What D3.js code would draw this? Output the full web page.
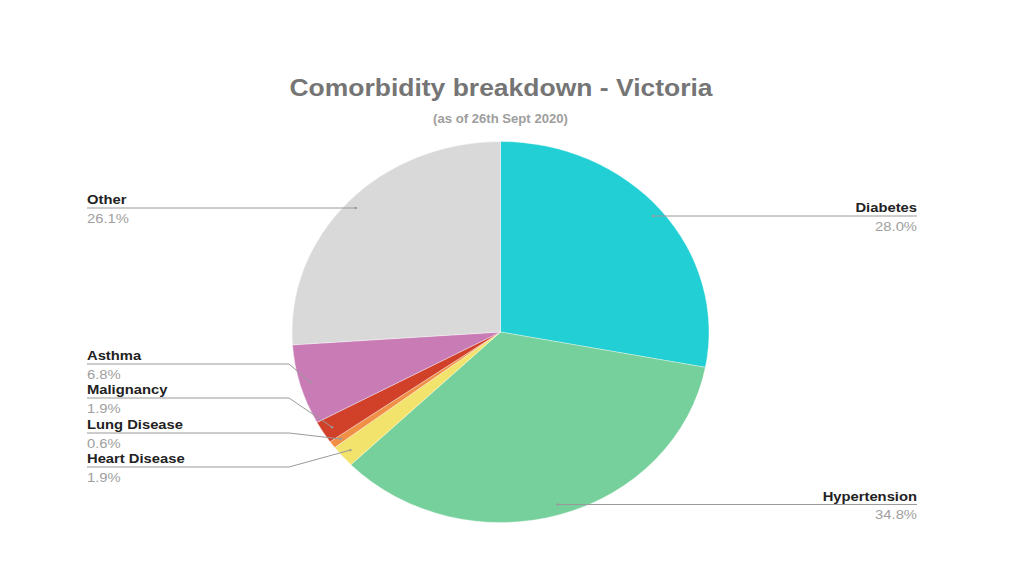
<!DOCTYPE html>
<html>
<head>
<meta charset="utf-8">
<script src="https://cdn.jsdelivr.net/npm/d3@7"></script>
<style>
  html, body { margin: 0; padding: 0; background: #fff; }
  svg { display: block; }
  text { font-family: "Liberation Sans", Arial, sans-serif; }
</style>
</head>
<body>
<svg id="chart" width="1024" height="576"></svg>
<script>
// ---- data ----
const categories = ["Diabetes", "Hypertension", "Heart Disease", "Lung Disease", "Malignancy", "Asthma", "Other"];
const values = [28.0, 34.8, 1.9, 0.6, 1.9, 6.8, 26.1];
const pctLabels = ["28.0%", "34.8%", "1.9%", "0.6%", "1.9%", "6.8%", "26.1%"];
const colors = ["#21cfd4", "#76d09b", "#f2e36d", "#f09046", "#d1412a", "#c87bb5", "#d9d9d9"];
const titleText = "Comorbidity breakdown - Victoria";
const subtitleText = "(as of 26th Sept 2020)";

// ---- layout ----
const W = 1024, H = 576;
const cx = 500.5, cy = 332;
const ry = 190.5, rx = 208.5;
const sx = rx / ry;             // horizontal stretch of the picture
const leaderK = 0.95;
// label line y positions and sides (layout)
const labelSide = ["right", "right", "left", "left", "left", "left", "left"];
const labelLineY = [216, 504.5, 467, 433, 398, 364, 208];
const leftX = 87, rightX = 917, elbowX = 289;

const svg = d3.select("#chart");
svg.append("rect").attr("width", W).attr("height", H).attr("fill", "#fff");

function stretchedText(parent, x, y, txt, size, weight, fill, anchor) {
  const g = parent.append("g").attr("transform", `translate(${x},${y}) scale(${sx},1)`);
  g.append("text").attr("x", 0).attr("y", 0)
    .attr("text-anchor", anchor)
    .attr("font-size", size).attr("font-weight", weight).attr("fill", fill)
    .text(txt);
  return g;
}
stretchedText(svg, 501, 96, titleText, 24.2, "bold", "#757575", "middle");
stretchedText(svg, 500.5, 123, subtitleText, 12, "bold", "#9e9e9e", "middle");

// pie
const pie = d3.pie().sort(null).value(d => d)(values);
const arc = d3.arc().innerRadius(0).outerRadius(ry);
const pieG = svg.append("g").attr("transform", `translate(${cx},${cy}) scale(${sx},1)`);
pieG.selectAll("path").data(pie).join("path")
  .attr("d", arc)
  .attr("fill", (d, i) => colors[i])
  .attr("stroke", "#ffffff")
  .attr("stroke-opacity", 0.6)
  .attr("stroke-width", 0.6)
  .attr("vector-effect", "non-scaling-stroke");

// leader lines and labels
const lblG = svg.append("g");
pie.forEach((d, i) => {
  const a = (d.startAngle + d.endAngle) / 2;
  const px = cx + rx * leaderK * Math.sin(a);
  const py = cy - ry * leaderK * Math.cos(a);
  const ly = labelLineY[i];
  let pts;
  if (labelSide[i] === "right") {
    if (Math.abs(py - ly) > 1.5) pts = [[px, py], [px + 20, ly], [rightX, ly]];
    else pts = [[px, ly], [rightX, ly]];
  } else {
    if (Math.abs(py - ly) > 1.5) pts = [[px, py], [elbowX, ly], [leftX, ly]];
    else pts = [[px, ly], [leftX, ly]];
  }
  lblG.append("path")
    .attr("d", d3.line()(pts))
    .attr("fill", "none")
    .attr("stroke", "#9a9a9a")
    .attr("stroke-width", 1);
  lblG.append("circle").attr("cx", pts[0][0]).attr("cy", pts[0][1]).attr("r", 1.2).attr("fill", "#9a9a9a");

  const tx = labelSide[i] === "right" ? rightX : leftX;
  const anchor = labelSide[i] === "right" ? "end" : "start";
  stretchedText(lblG, tx, ly - 4, categories[i], 13.5, "bold", "#222222", anchor);
  stretchedText(lblG, tx, ly + 14.5, pctLabels[i], 13.5, "normal", "#a0a0a0", anchor);
});
</script>
</body>
</html>
